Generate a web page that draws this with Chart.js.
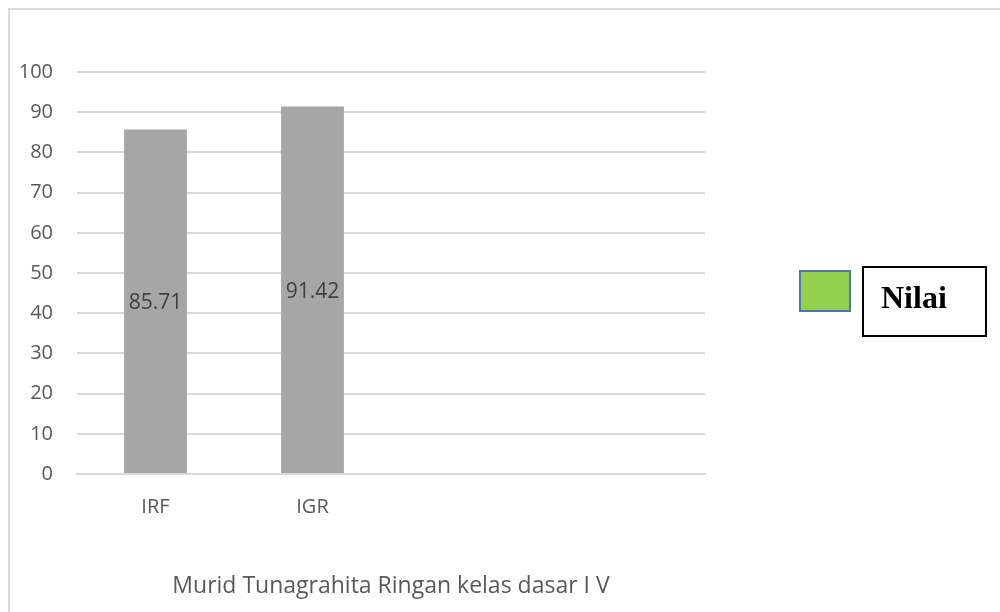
<!DOCTYPE html>
<html><head><meta charset="utf-8">
<script src="https://cdn.jsdelivr.net/npm/chart.js@4.4.0/dist/chart.umd.min.js"></script>
<style>
html,body{margin:0;padding:0;width:1000px;height:612px;overflow:hidden;background:#fff;}
#wrap{position:relative;width:1000px;height:612px;}
#frame{position:absolute;left:8px;top:8px;width:1000px;height:620px;border:2px solid #d9d9d9;box-sizing:border-box;pointer-events:none;}
#lgBox{position:absolute;left:799px;top:270px;width:52px;height:42px;background:#92d050;border:2px solid #4a76a8;box-sizing:border-box;}
#lgText{position:absolute;left:862px;top:266px;width:125px;height:71px;border:2px solid #000;box-sizing:border-box;font-family:"Liberation Serif",serif;font-weight:bold;font-size:32px;color:#000;line-height:1;padding-left:17px;padding-top:13px;}
canvas{position:absolute;left:0;top:0;}
</style></head>
<body><div id="wrap">
<canvas id="c" width="1000" height="612"></canvas>
<div id="frame"></div>
<div id="lgBox"></div>
<div id="lgText">Nilai</div>
</div>
<script>
const categories = ["IRF", "IGR", "", ""];
const nilai = [85.71, 91.42, null, null];
const yTicks = [0, 10, 20, 30, 40, 50, 60, 70, 80, 90, 100];
const seriesName = "Nilai";
const axisTitle = "Murid Tunagrahita Ringan kelas dasar I V";

const FONT = "'Open Sans', sans-serif";

const valueLabels = {
  id: 'valueLabels',
  afterDatasetsDraw(chart) {
    const ctx = chart.ctx;
    const meta = chart.getDatasetMeta(0);
    ctx.save();
    ctx.font = "21px " + FONT;
    ctx.fillStyle = "#404040";
    ctx.textAlign = "center";
    ctx.textBaseline = "middle";
    meta.data.forEach((bar, i) => {
      const v = chart.data.datasets[0].data[i];
      if (v === null || v === undefined) return;
      const y = (bar.y + bar.base) / 2 + 2;
      ctx.fillText(v.toFixed(2), bar.x, y);
    });
    ctx.restore();
  }
};

new Chart(document.getElementById('c'), {
  type: 'bar',
  data: {
    labels: categories,
    datasets: [{
      label: seriesName,
      data: nilai,
      backgroundColor: '#a6a6a6',
      borderWidth: 0,
      barPercentage: 0.4,
      categoryPercentage: 1.0
    }]
  },
  options: {
    responsive: false,
    animation: false,
    devicePixelRatio: 1,
    layout: { padding: { top: 72, right: 295, left: 0, bottom: 0 } },
    plugins: { legend: { display: false }, tooltip: { enabled: false } },
    scales: {
      x: {
        grid: { display: false, drawTicks: false },
        border: { display: true, color: '#d9d9d9', width: 2 },
        ticks: { color: '#595959', font: { family: FONT, size: 20 }, padding: 21, maxRotation: 0 },
        title: { display: true, text: axisTitle, color: '#595959', font: { family: FONT, size: 23 }, padding: { top: 0, bottom: 12 } },
        afterFit(s) { s.height = 138; }
      },
      y: {
        min: 0, max: 100,
        afterBuildTicks(s) { s.ticks = yTicks.map(v => ({ value: v })); },
        grid: { color: '#d9d9d9', lineWidth: 2, drawTicks: false },
        border: { display: false },
        ticks: { color: '#595959', font: { family: FONT, size: 20 }, padding: 24 },
        afterFit(s) { s.width = 77; }
      }
    }
  },
  plugins: [valueLabels]
});
</script>
</body></html>
